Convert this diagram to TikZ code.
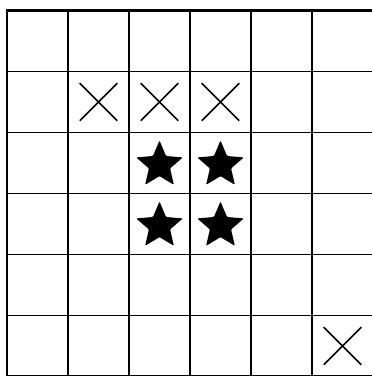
\documentclass[tikz,border=0pt]{standalone}
\usetikzlibrary{shapes.geometric,shapes.misc}
\begin{document}
\begin{tikzpicture}[
  x=1pt,y=1pt,
  gridline/.style={line width=1.7pt,black},
  frame/.style={line width=2.6pt,black},
  cross/.style={
    cross out,
    draw,
    line width=1.5pt,
    minimum size=36pt,
    inner sep=0pt
  },
  starmark/.style={
    star,
    star points=5,
    star point ratio=2.2,
    fill=black,
    minimum size=49pt,
    inner sep=0pt,
    rounded corners=1pt
  }
]
  \useasboundingbox (-7,0.5) rectangle (365,376.5);

  % Board: 6 by 6 cells
  \draw[gridline] (0,0) grid[step=61pt] (366,366);
  \draw[frame] (0,0) rectangle (366,366);

  % Crosses (column/row counted from the top left)
  \foreach \c/\r/\name in {1/1/xa,2/1/xb,3/1/xc,5/5/xd}
    \node[cross] (\name) at (61*\c+30.5,335.5-61*\r) {};

  % Stars in the middle block
  \foreach \c/\r/\name in {2/2/sa,3/2/sb,2/3/sc,3/3/sd}
    \node[starmark] (\name) at (61*\c+30.5,333.5-61*\r) {};
\end{tikzpicture}
\end{document}
